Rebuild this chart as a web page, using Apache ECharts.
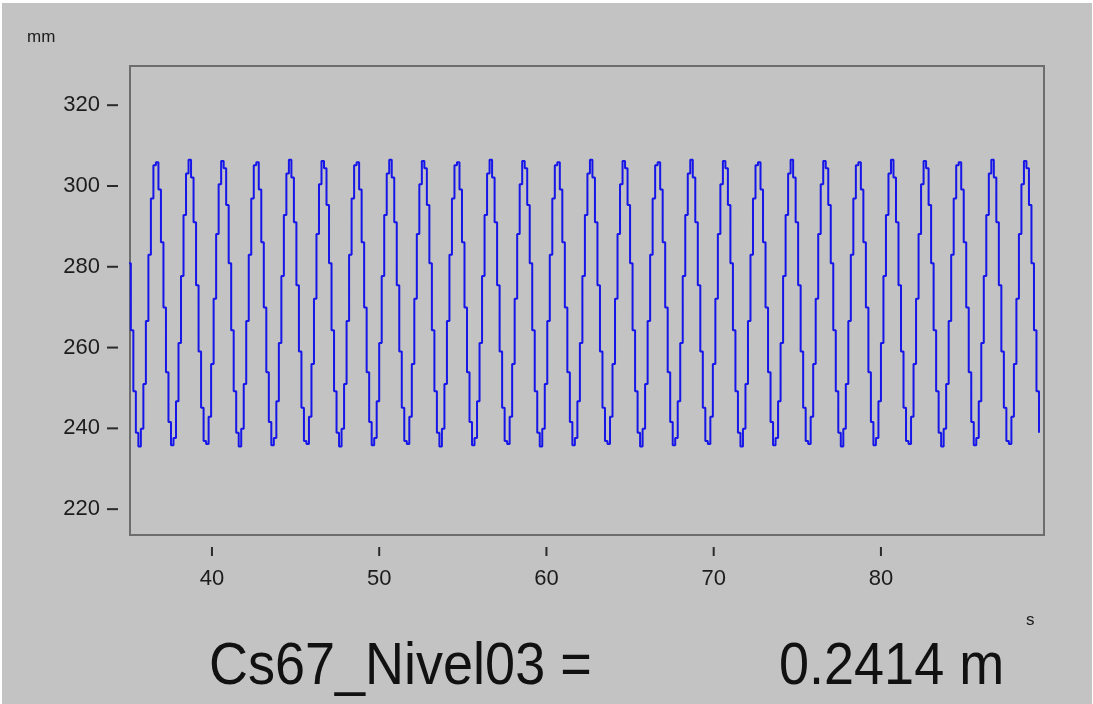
<!DOCTYPE html>
<html>
<head>
<meta charset="utf-8">
<script src="https://cdn.jsdelivr.net/npm/echarts@6/dist/echarts.min.js"></script>
<style>
html,body{margin:0;padding:0;background:#ffffff;}
#chart{position:absolute;left:2px;top:3px;width:1090px;height:701px;}
</style>
</head>
<body>
<div id="chart"></div>
<script>
// ---- data ----
const sampleStart = 35.0;   // s, time of first sample
const sampleStep = 0.15;    // s, sampling interval
const levelValues = [
280.9,264.3,249.2,238.9,235.5,239.9,251.0,266.6,283.0,296.9,305.1,305.9,299.1,286.1,269.9,253.9,241.6,235.8,237.6,246.7,
261.1,277.7,292.8,303.1,306.5,302.1,291.0,275.4,259.0,245.1,236.9,236.1,242.9,255.9,272.1,288.1,300.4,306.2,304.4,295.3,
280.9,264.3,249.2,238.9,235.5,239.9,251.0,266.6,283.0,296.9,305.1,305.9,299.1,286.1,269.9,253.9,241.6,235.8,237.6,246.7,
261.1,277.7,292.8,303.1,306.5,302.1,291.0,275.4,259.0,245.1,236.9,236.1,242.9,255.9,272.1,288.1,300.4,306.2,304.4,295.3,
280.9,264.3,249.2,238.9,235.5,239.9,251.0,266.6,283.0,296.9,305.1,305.9,299.1,286.1,269.9,253.9,241.6,235.8,237.6,246.7,
261.1,277.7,292.8,303.1,306.5,302.1,291.0,275.4,259.0,245.1,236.9,236.1,242.9,255.9,272.1,288.1,300.4,306.2,304.4,295.3,
280.9,264.3,249.2,238.9,235.5,239.9,251.0,266.6,283.0,296.9,305.1,305.9,299.1,286.1,269.9,253.9,241.6,235.8,237.6,246.7,
261.1,277.7,292.8,303.1,306.5,302.1,291.0,275.4,259.0,245.1,236.9,236.1,242.9,255.9,272.1,288.1,300.4,306.2,304.4,295.3,
280.9,264.3,249.2,238.9,235.5,239.9,251.0,266.6,283.0,296.9,305.1,305.9,299.1,286.1,269.9,253.9,241.6,235.8,237.6,246.7,
261.1,277.7,292.8,303.1,306.5,302.1,291.0,275.4,259.0,245.1,236.9,236.1,242.9,255.9,272.1,288.1,300.4,306.2,304.4,295.3,
280.9,264.3,249.2,238.9,235.5,239.9,251.0,266.6,283.0,296.9,305.1,305.9,299.1,286.1,269.9,253.9,241.6,235.8,237.6,246.7,
261.1,277.7,292.8,303.1,306.5,302.1,291.0,275.4,259.0,245.1,236.9,236.1,242.9,255.9,272.1,288.1,300.4,306.2,304.4,295.3,
280.9,264.3,249.2,238.9,235.5,239.9,251.0,266.6,283.0,296.9,305.1,305.9,299.1,286.1,269.9,253.9,241.6,235.8,237.6,246.7,
261.1,277.7,292.8,303.1,306.5,302.1,291.0,275.4,259.0,245.1,236.9,236.1,242.9,255.9,272.1,288.1,300.4,306.2,304.4,295.3,
280.9,264.3,249.2,238.9,235.5,239.9,251.0,266.6,283.0,296.9,305.1,305.9,299.1,286.1,269.9,253.9,241.6,235.8,237.6,246.7,
261.1,277.7,292.8,303.1,306.5,302.1,291.0,275.4,259.0,245.1,236.9,236.1,242.9,255.9,272.1,288.1,300.4,306.2,304.4,295.3,
280.9,264.3,249.2,238.9,235.5,239.9,251.0,266.6,283.0,296.9,305.1,305.9,299.1,286.1,269.9,253.9,241.6,235.8,237.6,246.7,
261.1,277.7,292.8,303.1,306.5,302.1,291.0,275.4,259.0,245.1,236.9,236.1,242.9,255.9,272.1,288.1,300.4,306.2,304.4,295.3,
280.9,264.3,249.2,238.9
];
const xTicks = [40, 50, 60, 70, 80];
const yTicks = [220, 240, 260, 280, 300, 320];
const xRange = [35.1, 89.75];
const yRange = [213.6, 329.7];
const yUnit = 'mm';
const xUnit = 's';
const readoutName = 'Cs67_Nivel03 =';
const readoutValue = '0.2414 m';

// ---- chart ----
const FONT = "'Liberation Sans', Arial, sans-serif";
const seriesData = levelValues.map((v, i) => [sampleStart + i * sampleStep, v]);

const chart = echarts.init(document.getElementById('chart'), null, {renderer: 'canvas'});
chart.setOption({
  animation: false,
  backgroundColor: '#c3c3c3',
  grid: {
    left: 128, top: 63, right: 48, bottom: 169,
    show: true, borderColor: '#6d6d6d', borderWidth: 2, backgroundColor: 'transparent'
  },
  xAxis: {
    type: 'value', min: xRange[0], max: xRange[1],
    axisLine: {show: false}, axisTick: {show: false}, splitLine: {show: false},
    axisLabel: {
      customValues: xTicks, margin: 12,
      formatter: v => '{t|}\n{v|' + v + '}',
      rich: {
        t: {width: 2, height: 9, backgroundColor: '#2a2a2a', align: 'center'},
        v: {fontSize: 22, fontFamily: FONT, color: '#1c1c1c', padding: [12, 0, 0, 0], align: 'center'}
      }
    }
  },
  yAxis: {
    type: 'value', min: yRange[0], max: yRange[1],
    axisLine: {show: false}, axisTick: {show: false}, splitLine: {show: false},
    axisLabel: {
      customValues: yTicks, margin: 12,
      formatter: v => '{v|' + v + '}{t|}',
      rich: {
        v: {fontSize: 22, fontFamily: FONT, color: '#1c1c1c', padding: [0, 7, 0, 0], verticalAlign: 'middle'},
        t: {width: 11, height: 2, backgroundColor: '#2a2a2a', verticalAlign: 'middle'}
      }
    }
  },
  graphic: [
    {type: 'text', left: 25, top: 26, style: {text: yUnit, font: '17px ' + FONT, fill: '#1c1c1c'}},
    {type: 'text', left: 1024, top: 609, style: {text: xUnit, font: '17px ' + FONT, fill: '#1c1c1c'}},
    {type: 'text', left: 207, top: 635, scaleY: 1.1, style: {text: readoutName, font: '54px ' + FONT, fill: '#111111'}},
    {type: 'text', left: 777, top: 635, scaleY: 1.1, style: {text: readoutValue, font: '54px ' + FONT, fill: '#111111'}}
  ],
  series: [{
    type: 'line', step: 'end', showSymbol: false, clip: true,
    data: seriesData,
    lineStyle: {color: '#1616e8', width: 2}
  }]
});
</script>
</body>
</html>
